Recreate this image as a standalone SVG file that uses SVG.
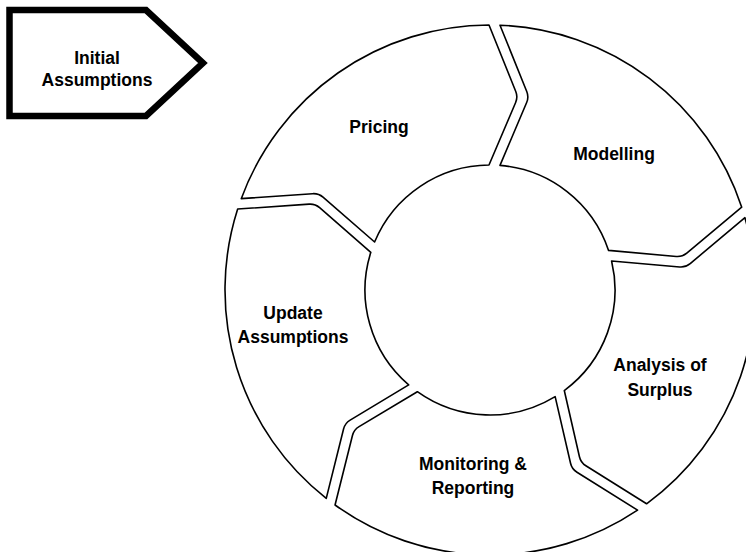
<svg xmlns="http://www.w3.org/2000/svg" xmlns:xlink="http://www.w3.org/1999/xlink" width="746" height="552" viewBox="0 0 746 552">
  <style>
    .seg { fill: #ffffff; stroke: #000000; stroke-width: 1.6; stroke-linejoin: round; }
    .start { fill: #ffffff; stroke: #000000; stroke-width: 6.5; stroke-linejoin: miter; }
    .lbl { font-family: "Liberation Sans", Arial, sans-serif; font-weight: bold; font-size: 17.5px; fill: #000000; text-anchor: middle; }
  </style>
  <defs>
    <path id="segment" d="M 10,-264.81 A 265 265 0 0 1 251.72,-82.84 L 196.80,-36.86 Q 192.20,-33.01 186.22,-33.54 L 118.57,-39.58 A 125 125 0 0 0 10,-124.60 L 36.66,-187.48 Q 39,-193 36.75,-198.56 Z"/>
  </defs>
  <rect width="746" height="552" fill="#ffffff"/>
  <g id="connectors"></g>
  <g id="initial-assumptions">
    <polygon class="start" points="9.5,10 146,10 203,63 146,116 9.5,116"/>
    <text class="lbl" x="97" y="64">Initial</text>
    <text class="lbl" x="97" y="86">Assumptions</text>
  </g>
  <g id="pricing">
    <use xlink:href="#segment" href="#segment" class="seg" transform="translate(490,290) rotate(-72)"/>
    <text class="lbl" x="379" y="133">Pricing</text>
  </g>
  <g id="modelling">
    <use xlink:href="#segment" href="#segment" class="seg" transform="translate(490,290) rotate(0)"/>
    <text class="lbl" x="614" y="160">Modelling</text>
  </g>
  <g id="analysis-of-surplus">
    <use xlink:href="#segment" href="#segment" class="seg" transform="translate(490,290) rotate(72)"/>
    <text class="lbl" x="660" y="371">Analysis of</text>
    <text class="lbl" x="660" y="396">Surplus</text>
  </g>
  <g id="monitoring-reporting">
    <use xlink:href="#segment" href="#segment" class="seg" transform="translate(490,290) rotate(144)"/>
    <text class="lbl" x="473" y="470">Monitoring &amp;</text>
    <text class="lbl" x="473" y="494">Reporting</text>
  </g>
  <g id="update-assumptions">
    <use xlink:href="#segment" href="#segment" class="seg" transform="translate(490,290) rotate(216)"/>
    <text class="lbl" x="293" y="319">Update</text>
    <text class="lbl" x="293" y="343">Assumptions</text>
  </g>
</svg>
